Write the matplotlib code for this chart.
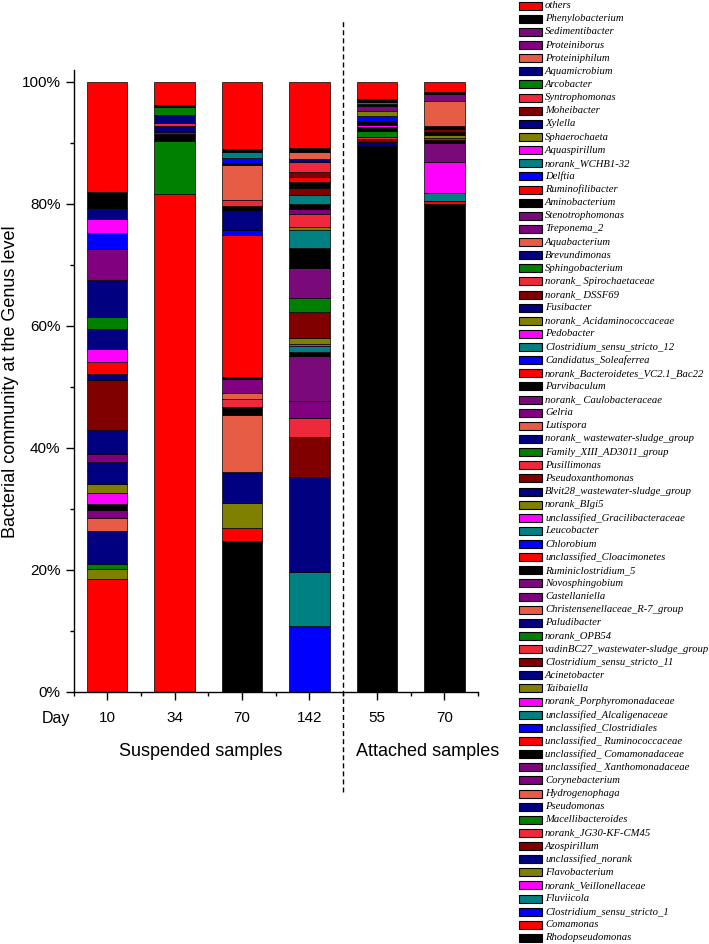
import numpy as np
import matplotlib
matplotlib.use('Agg')
import matplotlib.pyplot as plt
from matplotlib.patches import Rectangle

# stack order, bottom of the bar first (legend shows it reversed)
genera = [
    'Rhodopseudomonas', 'Comamonas', 'Clostridium_sensu_stricto_1', 'Fluviicola',
    'norank_Veillonellaceae', 'Flavobacterium', 'unclassified_norank', 'Azospirillum',
    'norank_JG30-KF-CM45', 'Macellibacteroides', 'Pseudomonas', 'Hydrogenophaga',
    'Corynebacterium', 'unclassified_ Xanthomonadaceae', 'unclassified_ Comamonadaceae',
    'unclassified_ Ruminococcaceae', 'unclassified_Clostridiales', 'unclassified_Alcaligenaceae',
    'norank_Porphyromonadaceae', 'Taibaiella', 'Acinetobacter', 'Clostridium_sensu_stricto_11',
    'vadinBC27_wastewater-sludge_group', 'norank_OPB54', 'Paludibacter',
    'Christensenellaceae_R-7_group', 'Castellaniella', 'Novosphingobium', 'Ruminiclostridium_5',
    'unclassified_Cloacimonetes', 'Chlorobium', 'Leucobacter', 'unclassified_Gracilibacteraceae',
    'norank_BIgi5', 'Blvit28_wastewater-sludge_group', 'Pseudoxanthomonas', 'Pusillimonas',
    'Family_XIII_AD3011_group', 'norank_ wastewater-sludge_group', 'Lutispora', 'Gelria',
    'norank_ Caulobacteraceae', 'Parvibaculum', 'norank_Bacteroidetes_VC2.1_Bac22',
    'Candidatus_Soleaferrea', 'Clostridium_sensu_stricto_12', 'Pedobacter',
    'norank_ Acidaminococcaceae', 'Fusibacter', 'norank_ DSSF69', 'norank_ Spirochaetaceae',
    'Sphingobacterium', 'Brevundimonas', 'Aquabacterium', 'Treponema_2', 'Stenotrophomonas',
    'Aminobacterium', 'Ruminofilibacter', 'Delftia', 'norank_WCHB1-32', 'Aquaspirillum',
    'Sphaerochaeta', 'Xylella', 'Moheibacter', 'Syntrophomonas', 'Arcobacter', 'Aquamicrobium',
    'Proteiniphilum', 'Proteiniborus', 'Sedimentibacter', 'Phenylobacterium', 'others',
]

days = ['10', '34', '70', '142', '55', '70']

# relative abundance (%)
susp_day10 = {
    'Comamonas': 18.5, 'Flavobacterium': 1.6, 'Macellibacteroides': 0.9, 'Pseudomonas': 5.3,
    'Hydrogenophaga': 2.2, 'Corynebacterium': 1.3, 'unclassified_ Comamonadaceae': 1.0,
    'norank_Porphyromonadaceae': 1.7, 'Taibaiella': 1.5, 'Acinetobacter': 2.2, 'Paludibacter': 1.4,
    'Castellaniella': 1.3, 'Blvit28_wastewater-sludge_group': 4.0, 'Pseudoxanthomonas': 8.2,
    'norank_ wastewater-sludge_group': 1.0, 'norank_Bacteroidetes_VC2.1_Bac22': 1.9,
    'Pedobacter': 2.2, 'Fusibacter': 3.3, 'Sphingobacterium': 1.9, 'Brevundimonas': 6.1,
    'Treponema_2': 5.0, 'Delftia': 2.7, 'Aquaspirillum': 2.3, 'Xylella': 1.7,
    'Phenylobacterium': 2.65, 'others': 18.15,
}
susp_day34 = {
    'Comamonas': 81.6, 'Macellibacteroides': 8.7, 'unclassified_ Comamonadaceae': 1.1,
    'Castellaniella': 0.4, 'Fusibacter': 1.0, 'norank_ Spirochaetaceae': 0.4, 'Xylella': 1.3,
    'Arcobacter': 1.3, 'Phenylobacterium': 0.4, 'others': 3.8,
}
susp_day70 = {
    'Rhodopseudomonas': 24.75, 'Comamonas': 2.15, 'Flavobacterium': 4.0, 'Pseudomonas': 5.15,
    'Hydrogenophaga': 9.25, 'unclassified_ Comamonadaceae': 1.4,
    'vadinBC27_wastewater-sludge_group': 1.2, 'Christensenellaceae_R-7_group': 1.0,
    'Castellaniella': 2.4, 'Ruminiclostridium_5': 0.3, 'unclassified_Cloacimonetes': 23.3,
    'Chlorobium': 0.8, 'Blvit28_wastewater-sludge_group': 3.2, 'Parvibaculum': 0.7,
    'norank_ Spirochaetaceae': 1.0, 'Aquabacterium': 5.8, 'Aminobacterium': 0.3, 'Delftia': 0.7,
    'norank_WCHB1-32': 1.0, 'Phenylobacterium': 0.6, 'others': 11.0,
}
susp_day142 = {
    'Clostridium_sensu_stricto_1': 10.7, 'Fluviicola': 9.0, 'unclassified_norank': 15.5,
    'Azospirillum': 6.5, 'norank_JG30-KF-CM45': 3.2, 'Corynebacterium': 2.7,
    'unclassified_ Xanthomonadaceae': 7.5, 'unclassified_ Comamonadaceae': 0.6,
    'unclassified_Alcaligenaceae': 1.0, 'norank_Porphyromonadaceae': 0.3, 'Taibaiella': 0.9,
    'Clostridium_sensu_stricto_11': 4.4, 'norank_OPB54': 2.2, 'Novosphingobium': 4.9,
    'Ruminiclostridium_5': 3.3, 'Leucobacter': 3.0, 'norank_BIgi5': 0.4, 'Pusillimonas': 2.2,
    'Gelria': 0.8, 'Parvibaculum': 0.8, 'Clostridium_sensu_stricto_12': 1.5,
    'norank_ DSSF69': 1.1, 'Aminobacterium': 1.0, 'Ruminofilibacter': 0.8, 'Moheibacter': 0.9,
    'Syntrophomonas': 1.7, 'Aquamicrobium': 0.4, 'Proteiniphilum': 1.2,
    'Phenylobacterium': 0.6, 'others': 10.9,
}
att_day55 = {
    'Rhodopseudomonas': 89.4, 'Acinetobacter': 0.65, 'Clostridium_sensu_stricto_11': 0.55,
    'vadinBC27_wastewater-sludge_group': 0.4, 'norank_OPB54': 0.9, 'Ruminiclostridium_5': 0.6,
    'unclassified_Gracilibacteraceae': 0.4, 'Parvibaculum': 0.6, 'Candidatus_Soleaferrea': 0.8,
    'norank_ Acidaminococcaceae': 0.8, 'Stenotrophomonas': 0.85, 'Aminobacterium': 0.35,
    'norank_WCHB1-32': 0.4, 'Phenylobacterium': 0.46, 'others': 2.84,
}
att_day70 = {
    'Rhodopseudomonas': 79.95, 'unclassified_ Ruminococcaceae': 0.45,
    'unclassified_Alcaligenaceae': 1.4, 'norank_Porphyromonadaceae': 5.1, 'Novosphingobium': 3.0,
    'Ruminiclostridium_5': 0.5, 'unclassified_Cloacimonetes': 0.3, 'norank_BIgi5': 0.56,
    'Parvibaculum': 0.54, 'norank_ DSSF69': 0.44, 'Aminobacterium': 0.56, 'Proteiniphilum': 4.1,
    'Sedimentibacter': 1.08, 'Phenylobacterium': 0.27, 'others': 1.75,
}
samples = [susp_day10, susp_day34, susp_day70, susp_day142, att_day55, att_day70]

# colour cycle repeats every 14 genera
palette = ['#000000', '#FF0000', '#0000FF', '#008080', '#FF00FF', '#808000', '#000080',
           '#800000', '#F0283C', '#008000', '#000080', '#E65C45', '#800080', '#7A0A7A']

W, H = 709, 944
fig = plt.figure(figsize=(W / 100, H / 100), dpi=100)
plt.rcParams['font.family'] = ['Liberation Sans', 'DejaVu Sans']

def fx(px):
    return px / W

def fy(py):
    return 1 - py / H

ax_l, ax_r, ax_b, ax_t = 73.5, 478, 691.7, 70
ax = fig.add_axes([fx(ax_l), fy(ax_b), fx(ax_r) - fx(ax_l), fy(ax_t) - fy(ax_b)])

ab = np.array([[s.get(g, 0.0) for g in genera] for s in samples])
x = np.arange(1, len(days) + 1)
bottom = np.zeros(len(days))
for i, g in enumerate(genera):
    vals = ab[:, i]
    m = vals > 0
    if m.any():
        ax.bar(x[m], vals[m], bottom=bottom[m], width=0.6, color=palette[i % 14],
               edgecolor='black', linewidth=0.5)
    bottom += vals

ax.set_xlim(0.5, 6.5)
ax.set_ylim(0, 101.9)
ax.set_xticks(x)
ax.set_xticklabels(days)
ax.set_xticks(np.arange(0.5, 6.6, 1), minor=True)
ax.set_yticks(np.arange(0, 101, 20))
ax.set_yticklabels(['%d%%' % v for v in range(0, 101, 20)])
ax.set_yticks(np.arange(10, 100, 20), minor=True)
for side in ['top', 'right']:
    ax.spines[side].set_visible(False)
for side in ['left', 'bottom']:
    ax.spines[side].set_linewidth(1.0)
ax.tick_params(which='major', direction='out', length=5.8, width=1.0, labelsize=11)
ax.tick_params(which='minor', direction='out', length=3, width=1.0)
ax.tick_params(axis='x', which='major', pad=8)
ax.tick_params(axis='y', which='major', pad=3.5)

ax.plot([4.5, 4.5], [-16.4, 110.1], color='black', lw=1, ls=(0, (3.6, 2.2)), clip_on=False)

ax.set_ylabel('Bacterial community at the Genus level', fontsize=13)
ax.yaxis.set_label_coords((19 - ax_l) / (ax_r - ax_l), (ax_b - 382) / (ax_b - ax_t))
fig.text(fx(56), fy(719), 'Day', fontsize=11.5, ha='center', va='center')
fig.text(fx(201), fy(752), 'Suspended samples', fontsize=13, ha='center', va='center')
fig.text(fx(428), fy(752), 'Attached samples', fontsize=13, ha='center', va='center')

# legend column on the right, top entry = top of the stack
for k, i in enumerate(range(len(genera) - 1, -1, -1)):
    yc = 5.7 + k * 13.13
    fig.add_artist(Rectangle((fx(519), fy(yc + 4)), fx(23), 8 / H, transform=fig.transFigure,
                             facecolor=palette[i % 14], edgecolor='black', linewidth=0.8))
    fig.text(fx(545), fy(yc), genera[i], fontsize=7.7, family='Liberation Serif',
             style='italic', ha='left', va='center')

fig.savefig('out.png', dpi=100)
